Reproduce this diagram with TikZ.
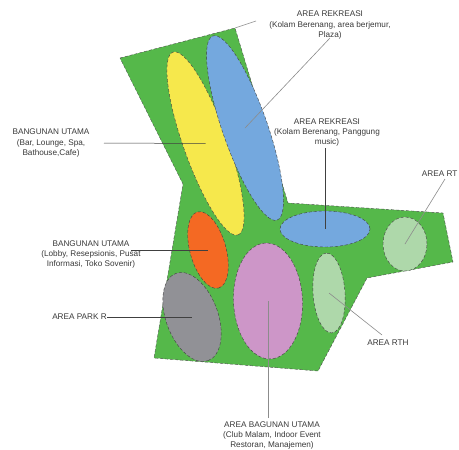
\documentclass[tikz,border=0pt]{standalone}
\usepackage{fontspec}
\setmainfont{Liberation Sans}
\usetikzlibrary{shapes.geometric}
\definecolor{site}{HTML}{55B84A}
\definecolor{lbltext}{HTML}{3A3A3A}
\definecolor{zyellow}{HTML}{F6E84C}
\definecolor{zblue}{HTML}{74A8DE}
\definecolor{zred}{HTML}{F46923}
\definecolor{zgray}{HTML}{919196}
\definecolor{zpink}{HTML}{CD96C8}
\definecolor{zlight}{HTML}{AED8AA}
\tikzset{
  zone/.style={shape=ellipse,draw=black!75,densely dashed,line width=0.4pt,inner sep=0pt},
  lbl/.style={text=lbltext,align=center,inner sep=0pt,font=\fontsize{8.2}{10.4}\selectfont},
  lead/.style={draw=black!75,line width=0.5pt},
  leadgray/.style={draw=black!45,line width=0.6pt}
}
\begin{document}
\begin{tikzpicture}[x=1pt,y=-1pt]
\useasboundingbox (0,0) rectangle (459,450);
\fill[white] (0,0) rectangle (459,450);
\draw[fill=site,densely dashed,line width=0.4pt,draw=black!70]
  (120,58) -- (235,28) -- (288,203) -- (443,213) -- (453,262) -- (367,278) -- (318,371) -- (154,358) -- (183,184) -- cycle;
\coordinate (tc) at (235,28);
\coordinate (te) at (256,21);
\draw[leadgray] (tc) -- (te);
\node[zone,fill=zyellow,minimum width=194pt,minimum height=44pt,rotate=-70.4] (yel) at (205.5,143.5) {};
\node[zone,fill=zblue,minimum width=195pt,minimum height=45pt,rotate=-70.8] (blu) at (245,128) {};
\node[zone,fill=zred,minimum width=79pt,minimum height=36pt,rotate=-74.5] (red) at (208,250) {};
\node[zone,fill=zgray,minimum width=93pt,minimum height=52pt,rotate=-69.8] (gry) at (192,317) {};
\node[zone,fill=zpink,minimum width=116pt,minimum height=69pt,rotate=92.5] (pnk) at (268,301) {};
\node[zone,fill=zlight,minimum width=80pt,minimum height=32pt,rotate=94] (lg1) at (329,293) {};
\node[zone,fill=zlight,minimum width=44pt,minimum height=54pt] (lg2) at (405,244) {};
\node[zone,fill=zblue,minimum width=90pt,minimum height=36pt] (blh) at (325,229) {};

\node[lbl] (l1) at (330,25) {AREA REKREASI\\(Kolam Berenang, area berjemur,\\Plaza)};
\node[lbl] (l2) at (327,132.5) {AREA REKREASI\\(Kolam Berenang, Panggung\\music)};
\node[lbl,anchor=east] (l3) at (457.5,174) {AREA RT};
\node[lbl] (l4) at (51,143) {BANGUNAN UTAMA\\(Bar, Lounge, Spa,\\Bathouse,Cafe)};
\node[lbl] (l5) at (91,254.5) {BANGUNAN UTAMA\\(Lobby, Resepsionis, Pusat\\Informasi, Toko Sovenir)};
\node[lbl,anchor=east] (l6) at (107,317) {AREA PARK R};
\node[lbl] (l7) at (388,343) {AREA RTH};
\node[lbl] (l8) at (272,435.5) {AREA BAGUNAN UTAMA\\(Club Malam, Indoor Event\\Restoran, Manajemen)};

\coordinate (s1) at (330,38);
\coordinate (s2) at (325,148);
\coordinate (s3) at (445,179);
\coordinate (s4) at (104,143);
\coordinate (s5) at (131,250);
\coordinate (s7) at (382,335);
\coordinate (s8) at (268,418);
\draw[leadgray] (s1) -- (blu.center);
\draw[lead] (s2) -- (blh.center);
\draw[leadgray] (s3) -- (lg2.center);
\draw[lead] (s4) -- (yel.center);
\draw[lead] (s5) -- (red.center);
\draw[lead] (l6.east) -- (gry.center);
\draw[leadgray] (s7) -- (lg1.center);
\draw[leadgray] (s8) -- (pnk.center);
\end{tikzpicture}
\end{document}
